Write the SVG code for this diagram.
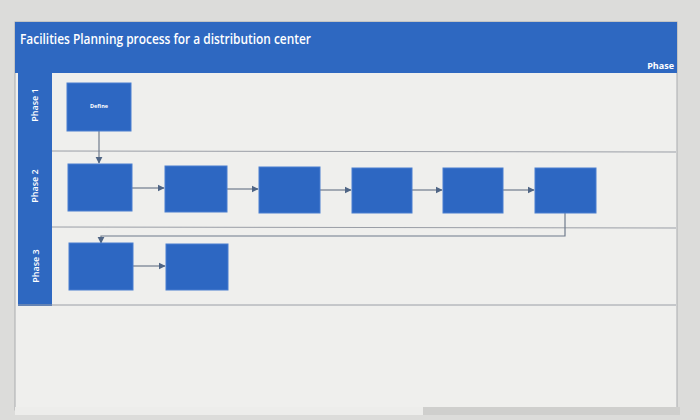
<svg xmlns="http://www.w3.org/2000/svg" width="700" height="420" viewBox="0 0 700 420">
<style>
.node{fill:#2d67c2;stroke:#4a7fd0;stroke-width:1}
.conn{fill:none;stroke:#6f7b8c;stroke-width:1.2}
.lane{stroke:#9a9ea6;stroke-width:1}
.lbl{font-family:"Open Sans","Liberation Sans",sans-serif;fill:#ffffff}
</style>
<defs>
<marker id="ah" viewBox="0 0 10 10" refX="9" refY="5" markerWidth="6" markerHeight="6" orient="auto">
<path d="M0,0 L10,5 L0,10 z" fill="#4f6585"/>
</marker>
</defs>
<rect x="0" y="0" width="700" height="420" fill="#dcdcda"/>
<rect x="15" y="22" width="662" height="388" fill="#efefed" stroke="#a9abae" stroke-width="1"/>
<g id="header">
<rect x="15" y="22" width="662" height="51" fill="#2e68c1"/>
<text class="lbl" x="20" y="44" font-size="13.5" font-weight="600" textLength="291" lengthAdjust="spacingAndGlyphs">Facilities Planning process for a distribution center</text>
<text class="lbl" x="674" y="69" font-size="9" font-weight="bold" text-anchor="end">Phase</text>
</g>
<g id="lanes">
<rect x="18" y="73" width="34" height="233" fill="#2e68c1"/>
<line class="lane" x1="52" y1="151" x2="676" y2="152"/>
<line class="lane" x1="52" y1="227" x2="676" y2="228"/>
<line class="lane" x1="18" y1="305" x2="676" y2="305"/>
<text class="lbl" font-size="9" font-weight="600" text-anchor="middle" transform="translate(38,105) rotate(-90)">Phase 1</text>
<text class="lbl" font-size="9" font-weight="600" text-anchor="middle" transform="translate(38,186) rotate(-90)">Phase 2</text>
<text class="lbl" font-size="9" font-weight="600" text-anchor="middle" transform="translate(39,266) rotate(-90)">Phase 3</text>
</g>
<g id="connectors">
<line class="conn" x1="99" y1="131" x2="99" y2="163" marker-end="url(#ah)"/>
<line class="conn" x1="132" y1="188" x2="164" y2="188" marker-end="url(#ah)"/>
<line class="conn" x1="227" y1="189" x2="258" y2="189" marker-end="url(#ah)"/>
<line class="conn" x1="320" y1="190" x2="351" y2="190" marker-end="url(#ah)"/>
<line class="conn" x1="412" y1="190" x2="442" y2="190" marker-end="url(#ah)"/>
<line class="conn" x1="503" y1="190" x2="534" y2="190" marker-end="url(#ah)"/>
<polyline class="conn" points="565,213 565,236 101,236 101,243" marker-end="url(#ah)"/>
<line class="conn" x1="133" y1="266" x2="165" y2="266" marker-end="url(#ah)"/>
</g>
<g id="n-define">
<rect class="node" x="67" y="83" width="64" height="48"/>
<text class="lbl" x="99" y="108" font-size="5.5" font-weight="bold" text-anchor="middle">Define</text>
</g>
<g id="n-p2-1"><rect class="node" x="68" y="164" width="64" height="47"/></g>
<g id="n-p2-2"><rect class="node" x="165" y="166" width="62" height="46"/></g>
<g id="n-p2-3"><rect class="node" x="259" y="167" width="61" height="46"/></g>
<g id="n-p2-4"><rect class="node" x="352" y="168" width="60" height="45"/></g>
<g id="n-p2-5"><rect class="node" x="443" y="168" width="60" height="45"/></g>
<g id="n-p2-6"><rect class="node" x="535" y="168" width="61" height="45"/></g>
<g id="n-p3-1"><rect class="node" x="69" y="243" width="64" height="47"/></g>
<g id="n-p3-2"><rect class="node" x="166" y="244" width="62" height="46"/></g>
<g id="scrollbar">
<rect x="15" y="407" width="408" height="8" fill="#ededeb"/>
<rect x="423" y="407" width="257" height="8" fill="#cfcfcd"/>
</g>
</svg>
